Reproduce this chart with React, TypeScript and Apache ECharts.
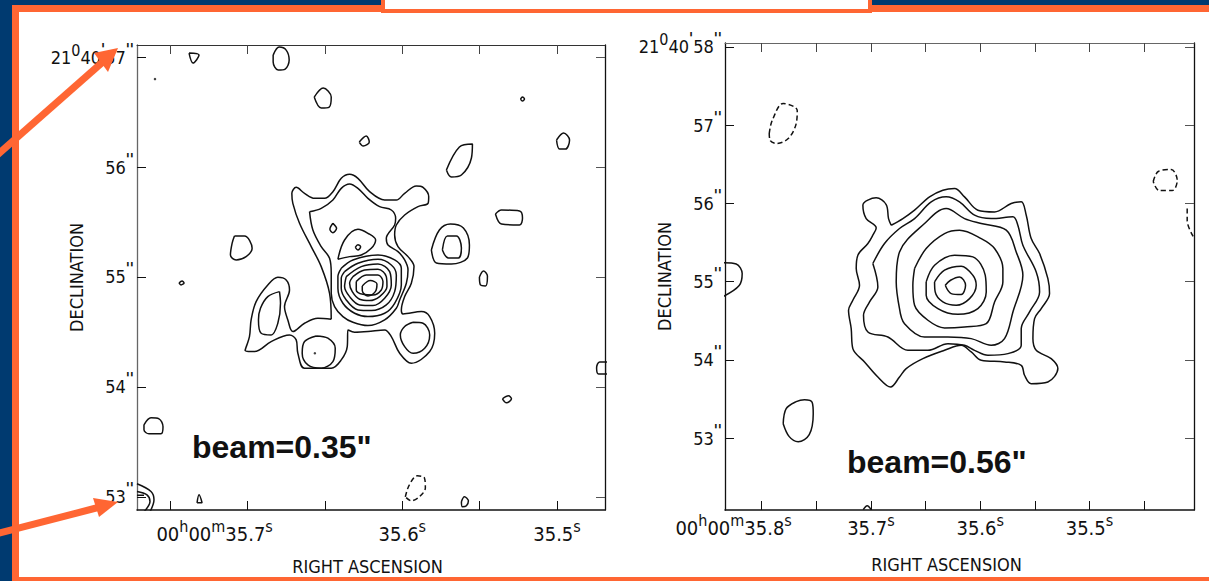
import React, { useEffect, useRef } from "react";
import * as echarts from "echarts";

type Pt = number[];
const FONT = "'Liberation Sans Narrow', 'DejaVu Sans Condensed', sans-serif";
const INK = "#111111";
const ORANGE = "#FF6633";
const NAVY = "#003A70";

// Axis scales: right ascension seconds and declination arcseconds
const raTicksLeft = [35.75, 35.7, 35.65, 35.6, 35.55, 35.5];
const raLabelsLeft = [35.7, 35.6, 35.5];
const decTicksLeft = [57, 56, 55, 54, 53];
const raTicksRight = [35.8, 35.75, 35.7, 35.65, 35.6, 35.55, 35.5, 35.45];
const raLabelsRight = [35.8, 35.7, 35.6, 35.5];
const decTicksRight = [58, 57, 56, 55, 54, 53];

// Contours are offsets from RA 35.6s, Dec 55" in milli-arcseconds, west / north positive
const leftOuter: Pt[] = [[-639,-381],[-654,-147],[-729,93],[-819,273],[-924,483],[-984,663],[-993,753],[-954,807],[-879,753],[-789,708],[-699,708],[-624,768],[-549,888],[-474,924],[-399,888],[-294,768],[-159,693],[-54,693],[21,753],[126,819],[186,807],[237,723],[231,663],[141,633],[21,558],[-54,468],[-69,378],[-39,273],[51,183],[105,93],[81,-57],[21,-177],[-9,-297],[6,-333],[171,-312],[246,-357],[291,-507],[246,-672],[81,-777],[-24,-687],[-99,-537],[-159,-477],[-309,-492],[-429,-498],[-489,-477],[-495,-627],[-549,-747],[-639,-822],[-879,-822],[-939,-687],[-954,-567],[-1014,-522],[-1179,-582],[-1329,-672],[-1413,-663],[-1374,-537],[-1359,-387],[-1314,-222],[-1209,-72],[-1119,-3],[-1044,-27],[-1014,-117],[-1059,-267],[-1029,-387],[-984,-492],[-879,-417],[-759,-372]];
const leftSecond: Pt[] = [[-834,588],[-729,618],[-624,693],[-549,798],[-474,837],[-399,798],[-309,708],[-204,633],[-99,603],[-60,528],[-69,468],[-144,348],[-129,288],[-39,228],[21,153],[51,63],[36,-57],[-24,-207],[-54,-282],[-159,-387],[-309,-438],[-444,-408],[-534,-357],[-609,-267],[-639,-147],[-639,33],[-654,168],[-729,273],[-804,423]];
const leftShoulder: Pt[] = [[-579,159],[-519,333],[-399,429],[-309,393],[-240,333],[-279,258],[-369,198],[-474,183]];
const leftRing1: Pt[] = [[-549,78],[-444,153],[-219,198],[-69,153],[-9,78],[-9,-72],[-69,-237],[-159,-327],[-309,-357],[-429,-327],[-534,-237],[-579,-102],[-579,3]];
const leftRing2: Pt[] = [[-519,48],[-399,123],[-219,159],[-99,108],[-54,18],[-69,-132],[-144,-252],[-279,-303],[-399,-297],[-504,-207],[-549,-102],[-549,-12]];
const leftRing3: Pt[] = [[-504,3],[-369,93],[-219,117],[-114,48],[-99,-72],[-159,-192],[-264,-258],[-384,-252],[-474,-177],[-519,-87]];
const leftRing4: Pt[] = [[-444,3],[-339,63],[-219,69],[-144,3],[-138,-87],[-204,-177],[-294,-213],[-384,-201],[-450,-132],[-474,-57]];
const leftRing5: Pt[] = [[-414,-42],[-324,18],[-219,18],[-174,-42],[-189,-117],[-264,-162],[-354,-156],[-414,-117]];
const leftPeak: Pt[] = [[-360,-81],[-288,-33],[-228,-63],[-243,-132],[-309,-171],[-360,-123]];
const leftKnotA: Pt[] = [[-624,483],[-591,438],[-624,399],[-651,429]];
const leftKnotB: Pt[] = [[-423,267],[-399,291],[-375,273],[-399,243]];
const leftLobeInner: Pt[] = [[-1104,-132],[-1095,-237],[-1119,-417],[-1179,-522],[-1269,-507],[-1293,-387],[-1275,-282],[-1209,-177]];
const leftCircleA: Pt[] = [[-774,-531],[-669,-552],[-603,-642],[-624,-762],[-729,-822],[-849,-792],[-900,-687],[-879,-582]];
const leftCircleB: Pt[] = [[96,-408],[186,-417],[246,-522],[201,-642],[96,-687],[21,-627],[-18,-522],[21,-447]];
const leftIsoA: Pt[] = [[-1509,369],[-1419,369],[-1350,258],[-1404,183],[-1494,153],[-1545,198],[-1530,303]];
const leftDoubleOuter: Pt[] = [[261,243],[333,423],[432,477],[549,441],[603,288],[585,171],[441,117],[306,126]];
const leftDoubleInner: Pt[] = [[360,243],[405,369],[486,369],[531,261],[504,171],[414,171]];
const leftIsoB: Pt[] = [[-1161,1998],[-1107,2070],[-1044,2043],[-1017,1953],[-1053,1872],[-1116,1863],[-1161,1935]];
const leftIsoC: Pt[] = [[-1917,2016],[-1827,1998],[-1881,1926]];
const leftIsoD: Pt[] = [[-792,1620],[-711,1701],[-639,1620],[-657,1530],[-729,1521]];
const leftIsoE: Pt[] = [[-387,1215],[-324,1269],[-297,1215],[-351,1179]];
const leftIsoF: Pt[] = [[396,963],[513,1170],[630,1197],[621,1071],[531,918],[441,900]];
const leftIsoG: Pt[] = [[1062,1602],[1080,1620],[1098,1602],[1080,1584]];
const leftIsoH: Pt[] = [[1386,1233],[1449,1296],[1503,1233],[1467,1152],[1413,1152]];
const leftIsoI: Pt[] = [[837,567],[891,603],[1053,594],[1080,531],[1053,468],[891,477]];
const leftIsoJ: Pt[] = [[693,0],[729,54],[765,9],[747,-81],[702,-72]];
const leftIsoK: Pt[] = [[-2007,-54],[-1980,-36],[-1962,-54],[-1989,-72]];
const leftIsoL: Pt[] = [[1845,-765],[1773,-765],[1746,-819],[1764,-873],[1845,-873]];
const leftIsoM: Pt[] = [[900,-1098],[954,-1071],[981,-1098],[936,-1134]];
const leftIsoN: Pt[] = [[-2322,-1332],[-2259,-1269],[-2187,-1278],[-2151,-1350],[-2169,-1413],[-2277,-1413],[-2322,-1377]];
const leftIsoO: Pt[] = [[531,-2025],[558,-1980],[594,-2016],[576,-2061],[540,-2070]];
const leftIsoP: Pt[] = [[-1845,-2034],[-1827,-1962],[-1800,-2034]];
const leftNegative: Pt[] = [[27,-1980],[63,-1872],[135,-1791],[198,-1809],[207,-1899],[153,-1980],[81,-2016]];
const leftBeamOuter: Pt[] = [[-2385,-1863],[-2259,-1932],[-2232,-2007],[-2268,-2115]];
const leftBeamInner: Pt[] = [[-2385,-1932],[-2295,-1962],[-2268,-2023],[-2322,-2115]];
const leftBeamBar: Pt[] = [[-2385,-1966],[-2322,-1966]];
const leftDots: Pt[] = [[-786,-687],[-2223,1782]];

const rightC1: Pt[] = [[-1135,718],[-1169,803],[-1199,982],[-1326,1067],[-1496,973],[-1454,803],[-1326,684],[-1369,591],[-1432,485],[-1560,336],[-1581,166],[-1539,-47],[-1624,-238],[-1679,-366],[-1645,-599],[-1624,-854],[-1475,-1024],[-1305,-1216],[-1143,-1343],[-1029,-1216],[-944,-1109],[-731,-982],[-455,-876],[-242,-812],[-115,-897],[13,-1003],[310,-1024],[523,-1067],[565,-1194],[650,-1301],[863,-1279],[990,-1109],[905,-982],[714,-876],[672,-727],[693,-472],[778,-344],[884,-153],[863,38],[757,357],[650,548],[587,846],[523,1016],[395,995],[183,888],[-30,910],[-200,1080],[-327,1186],[-476,1165],[-646,1080],[-837,910],[-986,803]];
const rightC2: Pt[] = [[-1369,230],[-1220,485],[-1029,676],[-837,803],[-625,1016],[-434,1080],[-264,1016],[-72,846],[140,803],[417,825],[480,718],[544,463],[714,123],[757,-132],[629,-387],[523,-599],[523,-812],[353,-918],[98,-939],[-72,-876],[-200,-812],[-412,-791],[-667,-876],[-922,-876],[-1177,-706],[-1432,-642],[-1488,-429],[-1411,-259],[-1305,-68]];
const rightC3: Pt[] = [[-1029,-344],[-965,-536],[-710,-706],[-412,-706],[-115,-727],[140,-812],[310,-727],[417,-387],[544,81],[459,378],[332,655],[13,740],[-200,803],[-434,931],[-710,740],[-1029,378],[-1071,-4]];
const rightC4: Pt[] = [[-837,166],[-689,421],[-455,612],[-264,655],[13,548],[183,421],[289,166],[289,-4],[183,-259],[77,-536],[-200,-578],[-455,-591],[-667,-493],[-837,-302],[-859,-47]];
const rightC5: Pt[] = [[-689,-4],[-582,208],[-327,336],[-94,315],[64,81],[77,-132],[-30,-344],[-285,-417],[-540,-344],[-689,-174]];
const rightC6: Pt[] = [[-582,-4],[-455,145],[-242,196],[-94,81],[-51,-47],[-136,-217],[-306,-302],[-476,-259],[-574,-132]];
const rightC7: Pt[] = [[-446,-47],[-378,17],[-264,60],[-187,-47],[-242,-166],[-370,-153]];
const rightBlob: Pt[] = [[-2512,-1811],[-2474,-1619],[-2346,-1530],[-2240,-1505],[-2142,-1540],[-2129,-1683],[-2180,-1951],[-2321,-2040],[-2435,-1976]];
const rightEdge: Pt[] = [[-3277,240],[-3111,225],[-3035,102],[-3073,-51],[-3277,-191]];
const rightTiny: Pt[] = [[-1492,-2907],[-1441,-2856],[-1390,-2907]];
const rightNegA: Pt[] = [[-2690,1887],[-2652,2053],[-2512,2270],[-2333,2180],[-2346,2015],[-2448,1823],[-2601,1760],[-2678,1798]];
const rightNegB: Pt[] = [[2206,1275],[2270,1403],[2435,1428],[2512,1288],[2448,1160],[2282,1160]];
const rightNegC: Pt[] = [[2639,931],[2639,778],[2716,574]];

const leftLoops = [leftOuter, leftSecond, leftShoulder, leftRing1, leftRing2, leftRing3, leftRing4, leftRing5, leftPeak, leftKnotA, leftKnotB, leftLobeInner, leftCircleA, leftCircleB, leftIsoA, leftDoubleOuter, leftDoubleInner, leftIsoB, leftIsoC, leftIsoD, leftIsoE, leftIsoF, leftIsoG, leftIsoH, leftIsoI, leftIsoJ, leftIsoK, leftIsoL, leftIsoM, leftIsoN, leftIsoO, leftIsoP];
const leftOpen = [leftBeamOuter, leftBeamInner, leftBeamBar];
const leftDashed = [leftNegative];
const rightLoops = [rightC1, rightC2, rightC3, rightC4, rightC5, rightC6, rightC7, rightBlob, rightEdge];
const rightOpen = [rightTiny];
const rightDashed = [rightNegA, rightNegB];
const rightDashedOpen = [rightNegC];

// Plate scale of each panel: nominal milli-arcseconds per second of RA and per arcsecond of Dec
const leftSky = (p: Pt) => [35.6 - p[0] / 13905, 55 + p[1] / 990];
const rightSky = (p: Pt) => [35.6 - p[0] / 13936, 55 + p[1] / 997];
const close = (p: Pt[]) => [...p, p[0]];

const sup = (s: string, tag = "s") => `{${tag}|${s}}`;
const supStyle = { fontFamily: FONT, fontSize: 16, color: INK, verticalAlign: "top" as const };
const rich = {
  n: { fontFamily: FONT, fontSize: 20, color: INK, lineHeight: 32 },
  d: { fontFamily: FONT, fontSize: 18, color: INK, lineHeight: 30 },
  s: supStyle,
  p: { ...supStyle, fontWeight: "bold" as const, fontSize: 15 },
  sl: { ...supStyle, padding: [0, 66, 0, 0] },
  sr: { ...supStyle, padding: [0, 56, 0, 0] },
};

function line(name: string, gridIdx: number, pts: number[][], dashed: boolean) {
  return {
    type: "line" as const,
    name,
    xAxisIndex: gridIdx * 2,
    yAxisIndex: gridIdx * 2,
    data: pts,
    showSymbol: false,
    symbol: "none",
    smooth: 0.35,
    clip: true,
    silent: true,
    lineStyle: { color: INK, width: 1.5, type: dashed ? ([5, 3] as any) : ("solid" as const) },
  };
}

function axesFor(gridIdx: number, cfg: {
  raMin: number; raMax: number; decMin: number; decMax: number;
  raTicks: number[]; raLabels: number[]; decTicks: number[];
  xFmt: (v: number) => string; yFmt: (v: number) => string;
  xNamePad: number; xMargin: number; xNameGap: number; yColor: string; topColor: string;
}) {
  const x = (pos: "bottom" | "top", show: boolean) => ({
    type: "value" as const, gridIndex: gridIdx, position: pos, inverse: true,
    min: cfg.raMin, max: cfg.raMax, splitLine: { show: false },
    axisLine: { show: true, onZero: false, lineStyle: { color: pos === "top" ? cfg.topColor : INK, width: pos === "top" ? 1 : 1.5 } },
    axisTick: { show: true, inside: true, length: 9, customValues: cfg.raTicks, lineStyle: { color: pos === "top" ? "#444" : INK, width: 1 } },
    axisLabel: show ? { show: true, customValues: cfg.raLabels, formatter: cfg.xFmt as any, margin: cfg.xMargin, rich } : { show: false },
    ...(show ? { name: "RIGHT ASCENSION", nameLocation: "middle" as const, nameGap: cfg.xNameGap, nameMoveOverlap: false, nameTextStyle: { fontFamily: FONT, fontSize: 18, color: INK, padding: [0, cfg.xNamePad, 0, 0] } } : {}),
  });
  const y = (pos: "left" | "right", show: boolean) => ({
    type: "value" as const, gridIndex: gridIdx, position: pos,
    min: cfg.decMin, max: cfg.decMax, splitLine: { show: false },
    axisLine: { show: true, onZero: false, lineStyle: { color: pos === "left" ? cfg.yColor : INK, width: 1.3 } },
    axisTick: { show: true, inside: true, length: 9, customValues: cfg.decTicks, lineStyle: { color: pos === "left" ? INK : "#555", width: 1 } },
    axisLabel: show ? { show: true, customValues: cfg.decTicks, formatter: cfg.yFmt as any, margin: 3, rich } : { show: false },
    ...(show ? { name: "DECLINATION", nameLocation: "middle" as const, nameGap: 52, nameRotate: 90, nameMoveOverlap: false, nameTextStyle: { fontFamily: FONT, fontSize: 18, color: INK } } : {}),
  });
  return { x: [x("bottom", true), x("top", false)], y: [y("left", true), y("right", false)] };
}

const secs = (v: number) => `{n|${v.toFixed(1)}}${sup("s")}`;
const prefix = (tag: string, v: number) => `{n|00}${sup("h")}{n|00}${sup("m")}{n|${v.toFixed(1)}}${sup("s", tag)}`;
const decFmt = (top: number) => (v: number) =>
  Math.round(v) === top
    ? `{d|21}${sup("0")}{d|40}${sup("'", "p")}{d|${Math.round(v)}}${sup("''", "p")}`
    : `{d|${Math.round(v)}}${sup("''", "p")}`;

const leftAxes = axesFor(0, {
  raMin: 35.469, raMax: 35.7715, decMin: 52.88, decMax: 57.11,
  raTicks: raTicksLeft, raLabels: raLabelsLeft, decTicks: decTicksLeft,
  xFmt: (v) => (Math.abs(v - 35.7) < 1e-6 ? prefix("sl", v) : secs(v)),
  yFmt: decFmt(57), xNamePad: 7, xMargin: 8, xNameGap: 47, yColor: "#666", topColor: "#333",
});
const rightAxes = axesFor(1, {
  raMin: 35.4044, raMax: 35.8335, decMin: 52.08, decMax: 58.05,
  raTicks: raTicksRight, raLabels: raLabelsRight, decTicks: decTicksRight,
  xFmt: (v) => (Math.abs(v - 35.8) < 1e-6 ? prefix("sr", v) : secs(v)),
  yFmt: decFmt(58), xNamePad: 26, xMargin: 2, xNameGap: 45, yColor: INK, topColor: "#666",
});

const series: any[] = [
  ...leftLoops.map((p, i) => line(`left contour ${i + 1}`, 0, close(p).map(leftSky), false)),
  ...leftOpen.map((p, i) => line(`left beam ${i + 1}`, 0, p.map(leftSky), false)),
  ...leftDashed.map((p, i) => line(`left negative ${i + 1}`, 0, close(p).map(leftSky), true)),
  {
    type: "scatter", name: "left dots", xAxisIndex: 0, yAxisIndex: 0, symbolSize: 2.5, silent: true,
    itemStyle: { color: INK }, data: leftDots.map(leftSky),
  },
  ...rightLoops.map((p, i) => line(`right contour ${i + 1}`, 1, close(p).map(rightSky), false)),
  ...rightOpen.map((p, i) => line(`right open ${i + 1}`, 1, p.map(rightSky), false)),
  ...rightDashed.map((p, i) => line(`right negative ${i + 1}`, 1, close(p).map(rightSky), true)),
  ...rightDashedOpen.map((p, i) => line(`right negative open ${i + 1}`, 1, p.map(rightSky), true)),
];

const box = (x: number, y: number, width: number, height: number, fill: string, z = 1) => ({
  type: "rect", z, silent: true, shape: { x, y, width, height }, style: { fill },
});
const arrow = (x1: number, y1: number, x2: number, y2: number, pts: number[][]) => [
  { type: "line", z: 100, silent: true, shape: { x1, y1, x2, y2 }, style: { stroke: ORANGE, lineWidth: 7 } },
  { type: "polygon", z: 100, silent: true, shape: { points: pts }, style: { fill: ORANGE } },
];
const beam = (x: number, y: number, text: string) => ({
  type: "text", z: 50, silent: true, x, y,
  style: { text, fill: "#111", font: "bold 32px 'Liberation Sans', Arial, sans-serif", textVerticalAlign: "middle" },
});

export default function App() {
  const ref = useRef<HTMLDivElement>(null);
  useEffect(() => {
    document.body.style.margin = "0";
    const chart = echarts.init(ref.current!, undefined, { renderer: "svg" });
    chart.setOption({
      animation: false,
      backgroundColor: "#ffffff",
      grid: [
        { left: 137, top: 45, width: 468, height: 465, containLabel: false, outerBoundsMode: "none" },
        { left: 725, top: 43, width: 469, height: 467, containLabel: false, outerBoundsMode: "none" },
      ],
      xAxis: [...leftAxes.x, ...rightAxes.x],
      yAxis: [...leftAxes.y, ...rightAxes.y],
      series,
      graphic: [
        box(0, 0, 12, 581, NAVY),
        box(0, 0, 1209, 5, NAVY),
        box(12, 5, 1197, 7, ORANGE),
        box(12, 5, 7, 576, ORANGE),
        box(12, 577, 1197, 4, ORANGE),
        box(381, 0, 491, 13, ORANGE, 2),
        box(385, 0, 483, 9, "#ffffff", 3),
        beam(192, 447, 'beam=0.35"'),
        beam(847, 462, 'beam=0.56"'),
        ...arrow(-4, 156, 105, 60, [[118, 48], [94, 53], [108, 72]]),
        ...arrow(-4, 534, 100, 507, [[118, 502], [93, 498], [99, 517]]),
      ],
    });
    return () => chart.dispose();
  }, []);
  return <div ref={ref} style={{ width: 1209, height: 581 }} />;
}
